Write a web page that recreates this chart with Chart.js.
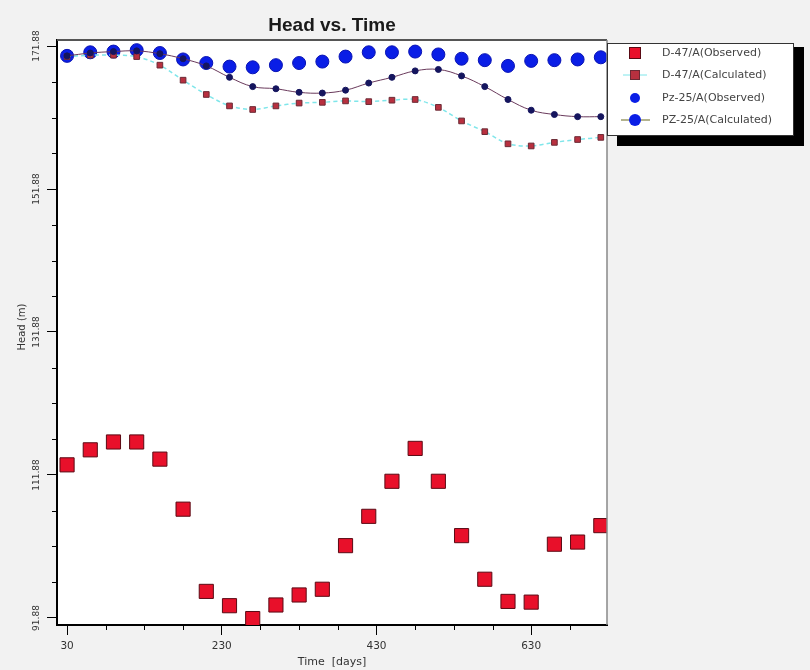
<!DOCTYPE html>
<html><head><meta charset="utf-8">
<script src="https://cdn.jsdelivr.net/npm/chart.js@4.4.0/dist/chart.umd.min.js"></script>
<style>html,body{margin:0;padding:0;background:#f2f2f2}canvas{display:block}</style>
</head><body>
<canvas id="c" width="810" height="670"></canvas>
<script>
const times = [30,60,90,120,150,180,210,240,270,300,330,360,390,420,450,480,510,540,570,600,630,660,690,720];
const d47Observed   = [113.3,115.4,116.5,116.5,114.1,107.1,95.6,93.6,91.8,93.7,95.1,95.9,102.0,106.1,111.0,115.6,111.0,103.4,97.3,94.2,94.1,102.2,102.5,104.8];
const d47Calculated = [170.4,170.6,170.6,170.4,169.2,167.1,165.1,163.5,163.0,163.5,163.9,164.0,164.2,164.1,164.3,164.4,163.3,161.4,159.9,158.2,157.9,158.4,158.8,159.1];
const pz25Observed  = [170.5,171.0,171.1,171.3,170.9,170.0,169.5,169.0,168.9,169.2,169.5,169.7,170.4,171.0,171.0,171.1,170.7,170.1,169.9,169.1,169.8,169.9,170.0,170.3];
const pz25Calculated= [170.5,170.9,171.1,171.2,170.8,170.1,169.1,167.5,166.2,165.9,165.4,165.3,165.7,166.7,167.5,168.4,168.6,167.7,166.2,164.4,162.9,162.3,162.0,162.0];
const seriesLabels = ['D-47/A(Observed)','D-47/A(Calculated)','Pz-25/A(Observed)','PZ-25/A(Calculated)'];
const xTicks = [30,230,430,630];
const xMinorTicks = [80,130,180,280,330,380,480,530,580,680];
const yTicks = [91.88,111.88,131.88,151.88,171.88];
const yMinorTicks = [96.88,101.88,106.88,116.88,121.88,126.88,136.88,141.88,146.88,156.88,161.88,166.88];
const chartTitle = 'Head vs. Time';
const xTitle = 'Time  [days]';
const yTitle = 'Head (m)';

const FONT = '"DejaVu Sans", Verdana, sans-serif';
const TFONT = '"Liberation Sans", Arial, sans-serif';
Chart.defaults.font.family = FONT;

function pts(arr){ return times.map((t,i)=>({x:t,y:arr[i]})); }

const decor = {
  id:'decor',
  beforeDraw(chart){
    const ctx = chart.ctx, a = chart.chartArea;
    ctx.save();
    ctx.fillStyle = '#f2f2f2'; ctx.fillRect(0,0,chart.width,chart.height);
    ctx.fillStyle = '#ffffff'; ctx.fillRect(a.left,a.top,a.right-a.left,a.bottom-a.top);
    ctx.restore();
  },
  afterDraw(chart){
    const ctx = chart.ctx, a = chart.chartArea;
    const xs = chart.scales.x, ys = chart.scales.y;
    ctx.save();
    // frame top/right
    ctx.strokeStyle = '#555'; ctx.lineWidth = 2;
    ctx.beginPath(); ctx.moveTo(a.left, a.top); ctx.lineTo(a.right, a.top); ctx.stroke();
    ctx.strokeStyle = '#888'; ctx.lineWidth = 1.5;
    ctx.beginPath(); ctx.moveTo(a.right, a.top); ctx.lineTo(a.right, a.bottom); ctx.stroke();
    // minor ticks
    ctx.strokeStyle = '#000'; ctx.lineWidth = 1;
    ctx.beginPath();
    xMinorTicks.forEach(v=>{ const px = Math.round(xs.getPixelForValue(v))+0.5; ctx.moveTo(px, a.bottom); ctx.lineTo(px, a.bottom+5); });
    yMinorTicks.forEach(v=>{ const py = Math.round(ys.getPixelForValue(v))+0.5; ctx.moveTo(a.left-5, py); ctx.lineTo(a.left, py); });
    ctx.stroke();
    // title
    ctx.fillStyle = '#1a1a1a'; ctx.font = 'bold 19px ' + TFONT;
    ctx.textAlign = 'center'; ctx.textBaseline = 'middle';
    ctx.fillText(chartTitle, (a.left+a.right)/2, 26);
    // axis titles
    ctx.fillStyle = '#333'; ctx.font = '11px ' + FONT;
    ctx.fillText(xTitle, (a.left+a.right)/2, 662);
    ctx.save(); ctx.translate(22, 327); ctx.rotate(-Math.PI/2);
    ctx.font = '10px ' + FONT; ctx.fillText(yTitle, 0, 0); ctx.restore();
    // legend
    const L = 607, T = 43, W = 186, H = 92;
    ctx.fillStyle = '#000';
    ctx.fillRect(L+W, T+4, 11, H+7);
    ctx.fillRect(L+10, T+H, W+1, 11);
    ctx.fillStyle = '#fff'; ctx.fillRect(L, T, W, H);
    ctx.strokeStyle = '#333'; ctx.lineWidth = 1; ctx.strokeRect(L+0.5, T+0.5, W, H);
    const rows = [53, 75, 98, 120];
    const mx = 635;
    const ds = chart.data.datasets;
    ctx.fillStyle = ds[0].backgroundColor; ctx.strokeStyle = ds[0].borderColor;
    ctx.fillRect(mx-5.5, rows[0]-5.5, 11, 11); ctx.strokeRect(mx-5.5, rows[0]-5.5, 11, 11);
    ctx.strokeStyle = ds[1].borderColor; ctx.lineWidth = 1;
    ctx.beginPath(); ctx.moveTo(mx-12, rows[1]); ctx.lineTo(mx+12, rows[1]); ctx.stroke();
    ctx.fillStyle = ds[1].pointBackgroundColor; ctx.strokeStyle = ds[1].pointBorderColor;
    ctx.fillRect(mx-4.5, rows[1]-4.5, 9, 9); ctx.strokeRect(mx-4.5, rows[1]-4.5, 9, 9);
    ctx.fillStyle = ds[2].backgroundColor;
    ctx.beginPath(); ctx.arc(mx, rows[2], 5, 0, Math.PI*2); ctx.fill();
    ctx.strokeStyle = '#9a9a6a'; ctx.lineWidth = 1.5;
    ctx.beginPath(); ctx.moveTo(mx-14, rows[3]); ctx.lineTo(mx+15, rows[3]); ctx.stroke();
    ctx.fillStyle = ds[2].backgroundColor;
    ctx.beginPath(); ctx.arc(mx, rows[3], 6, 0, Math.PI*2); ctx.fill();
    ctx.fillStyle = '#444'; ctx.font = '11px ' + FONT; ctx.textAlign = 'left'; ctx.textBaseline = 'middle';
    seriesLabels.forEach((s,i)=> ctx.fillText(s, 662, rows[i]));
    ctx.restore();
  }
};

new Chart(document.getElementById('c'), {
  type: 'scatter',
  data: {
    datasets: [
      { label: seriesLabels[0], data: pts(d47Observed), showLine:false, pointStyle:'rect', pointRadius:10, pointHoverRadius:10,
        backgroundColor:'#e8102a', borderColor:'#5a0a14', borderWidth:1, order:3 },
      { label: seriesLabels[1], data: pts(d47Calculated), showLine:true, borderColor:'#7fe6ea', borderDash:[4,3], borderWidth:1.5, tension:0.3,
        pointStyle:'rect', pointRadius:4, pointHoverRadius:4, pointBackgroundColor:'#b8303f', pointBorderColor:'#6b2a35', pointBorderWidth:1, order:1 },
      { label: seriesLabels[2], data: pts(pz25Observed), showLine:false, pointStyle:'circle', pointRadius:6.5, pointHoverRadius:6.5,
        backgroundColor:'#0a1ee6', borderColor:'#0a14b4', borderWidth:1, order:2 },
      { label: seriesLabels[3], data: pts(pz25Calculated), showLine:true, borderColor:'#6a3a5c', borderWidth:1, tension:0.4,
        pointStyle:'circle', pointRadius:3, pointHoverRadius:3, pointBackgroundColor:'#15155e', pointBorderColor:'#15155e', order:0 }
    ]
  },
  options: {
    responsive:false, animation:false, devicePixelRatio:1,
    layout:{ padding:{ left:0, top:40, right:203, bottom:0 } },
    plugins:{ legend:{display:false}, title:{display:false}, tooltip:{enabled:false} },
    scales:{
      x:{ type:'linear', min:17, max:728,
        afterBuildTicks(s){ s.ticks = xTicks.map(v=>({value:v})); },
        afterFit(s){ s.height = 45; },
        ticks:{ font:{size:10.5}, color:'#333', padding:5, maxRotation:0, minRotation:0, callback:(v)=>String(v) },
        grid:{ display:true, drawOnChartArea:false, drawTicks:true, tickLength:10, tickColor:'#000', tickWidth:1 },
        border:{ display:true, color:'#000', width:2 }
      },
      y:{ type:'linear', min:90.9, max:172.72,
        afterBuildTicks(s){ s.ticks = yTicks.map(v=>({value:v})); },
        afterFit(s){ s.width = 57; },
        ticks:{ font:{size:9}, color:'#333', padding:-5, minRotation:90, maxRotation:90, crossAlign:'center', callback:(v)=>Number(v).toFixed(2) },
        grid:{ display:true, drawOnChartArea:false, drawTicks:true, tickLength:10, tickColor:'#000', tickWidth:1 },
        border:{ display:true, color:'#000', width:2 }
      }
    }
  },
  plugins:[decor]
});
</script>
</body></html>
